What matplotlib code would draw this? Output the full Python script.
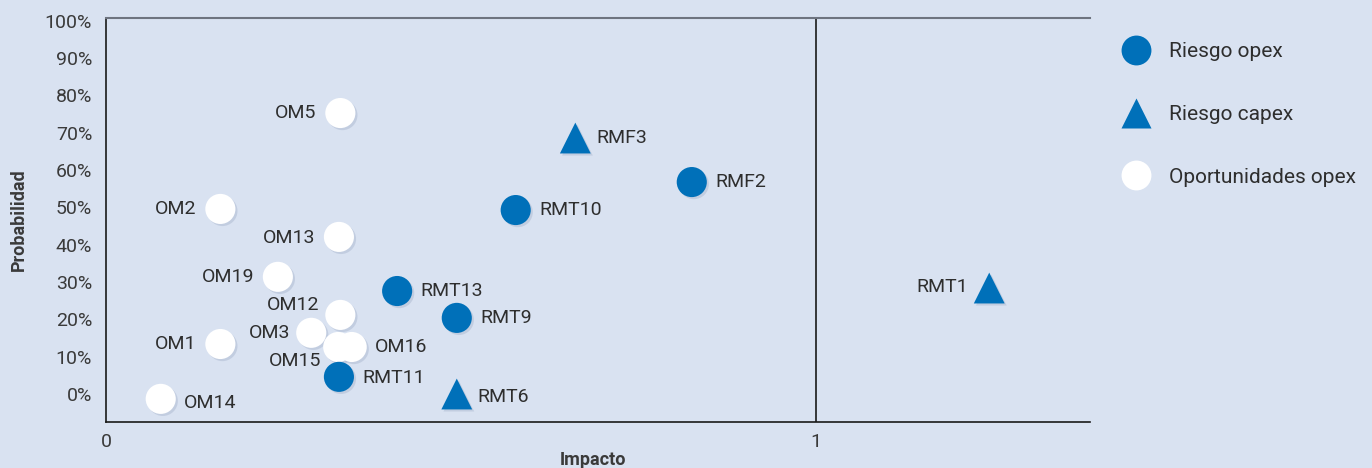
import matplotlib
matplotlib.use("Agg")
import matplotlib.pyplot as plt
import matplotlib.patheffects as pe
from matplotlib.lines import Line2D

plt.rcParams['font.family'] = ['Roboto', 'DejaVu Sans']

# ---- data ----
opex_names = ["RMT10", "RMF2", "RMT13", "RMT9", "RMT11"]
opex_x = [0.577, 0.825, 0.410, 0.494, 0.328]
opex_y = [0.493, 0.568, 0.276, 0.204, 0.046]

capex_names = ["RMF3", "RMT6", "RMT1"]
capex_x = [0.661, 0.494, 1.244]
capex_y = [0.686, 0.000, 0.284]

opp_names = ["OM5", "OM2", "OM13", "OM19", "OM12", "OM3", "OM15", "OM16", "OM1", "OM14"]
opp_x = [0.330, 0.161, 0.328, 0.242, 0.330, 0.289, 0.327, 0.346, 0.161, 0.077]
opp_y = [0.753, 0.496, 0.421, 0.314, 0.212, 0.164, 0.126, 0.126, 0.134, -0.013]

y_ticks = [0, 0.1, 0.2, 0.3, 0.4, 0.5, 0.6, 0.7, 0.8, 0.9, 1.0]
y_tick_labels = ["0%", "10%", "20%", "30%", "40%", "50%", "60%", "70%", "80%", "90%", "100%"]
x_ticks = [0, 1]
x_tick_labels = ["0", "1"]
legend_labels = ["Riesgo opex", "Riesgo capex", "Oportunidades opex"]

# label placement (offset in points, horizontal alignment)
label_style = {
    "RMT10": (17, 0, "left"), "RMF2": (17, 0, "left"), "RMT13": (17, 0, "left"),
    "RMT9": (17, 0, "left"), "RMT11": (17, -1, "left"),
    "RMF3": (15, 0, "left"), "RMT6": (15, -2, "left"), "RMT1": (-15, 1, "right"),
    "OM5": (-17, 0, "right"), "OM2": (-17, 0, "right"), "OM13": (-17, -1, "right"),
    "OM19": (-17, 0, "right"), "OM12": (-15, 7, "right"), "OM3": (-15, 0, "right"),
    "OM15": (-12, -10, "right"), "OM16": (17, 0, "left"), "OM1": (-17, 0, "right"),
    "OM14": (17, -3, "left"),
}

BG = "#d9e2f1"
BLUE = "#0070b9"
TXT = "#2e2e2e"
FS = 14

fig = plt.figure(figsize=(13.72, 4.68), dpi=100, facecolor=BG)
ax = fig.add_axes([0.0773, 0.0983, 0.7172, 0.8643], facecolor=BG)

shadow = [pe.SimplePatchShadow(offset=(1.5, -1.5), shadow_rgbFace="#8090b0", alpha=0.25), pe.Normal()]
S = 470

ax.axvline(1, color="#1a1a1a", lw=1.2, zorder=1)

ax.scatter(opp_x, opp_y, s=S, marker="o", color="white", edgecolors="none", zorder=3, path_effects=shadow)
ax.scatter(opex_x, opex_y, s=S, marker="o", color=BLUE, edgecolors="none", zorder=4, path_effects=shadow)
ax.scatter(capex_x, capex_y, s=S * 1.05, marker="^", color=BLUE, edgecolors="none", zorder=4, path_effects=shadow)

for names, xs, ys in ((opp_names, opp_x, opp_y), (opex_names, opex_x, opex_y), (capex_names, capex_x, capex_y)):
    for n, x, y in zip(names, xs, ys):
        dx, dy, ha = label_style[n]
        ax.annotate(n, (x, y), xytext=(dx, dy), textcoords="offset points", ha=ha, va="center",
                    fontsize=FS, color=TXT, zorder=5)

ax.set_xlim(0, 1.386)
ax.set_ylim(-0.075, 1.009)
ax.set_xticks(x_ticks)
ax.set_xticklabels(x_tick_labels)
ax.set_yticks(y_ticks)
ax.set_yticklabels(y_tick_labels)
ax.tick_params(axis="both", length=0, labelsize=FS, labelcolor="#3a3a3a")
ax.tick_params(axis="x", pad=8)
ax.tick_params(axis="y", pad=10)

ax.spines["right"].set_visible(False)
ax.spines["top"].set_color("#6e7480")
ax.spines["top"].set_linewidth(1.5)
ax.spines["left"].set_color("#1a1a1a")
ax.spines["bottom"].set_color("#1a1a1a")
ax.spines["left"].set_linewidth(1.2)
ax.spines["bottom"].set_linewidth(1.2)

ax.set_xlabel("Impacto", fontsize=13, fontweight="bold", color="#3a3a3a")
ax.xaxis.set_label_coords(0.495, -0.072)
ax.set_ylabel("Probabilidad", fontsize=13, fontweight="bold", color="#3a3a3a", labelpad=12)

handles = [
    Line2D([], [], marker="o", ls="", markersize=21.5, markerfacecolor=BLUE, markeredgecolor="none"),
    Line2D([], [], marker="^", ls="", markersize=22, markerfacecolor=BLUE, markeredgecolor="none"),
    Line2D([], [], marker="o", ls="", markersize=21.5, markerfacecolor="white", markeredgecolor="none"),
]
fig.legend(handles, legend_labels, loc="upper left", bbox_to_anchor=(0.7995, 0.95), frameon=False,
           fontsize=15, labelspacing=2.1, handletextpad=0.55, labelcolor=TXT)

fig.savefig("out.png", dpi=100, facecolor=BG)
